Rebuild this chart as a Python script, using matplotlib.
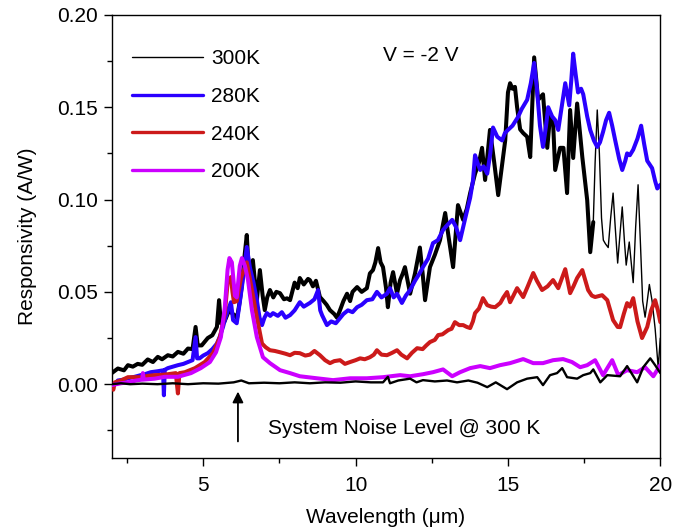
import numpy as np
import matplotlib.pyplot as plt

plt.rcParams['font.family'] = ['Liberation Sans', 'DejaVu Sans']
plt.rcParams['font.size'] = 15

# 300K, thick part of the spectrum
wl_300 = [2.0, 2.2, 2.4, 2.53, 2.69, 2.85, 3.0, 3.18, 3.35, 3.51, 3.65, 3.84, 4.0, 4.17,
          4.35, 4.5, 4.65, 4.75, 4.82, 4.95, 5.15, 5.3, 5.45, 5.52, 5.58, 5.7, 5.85, 5.94,
          6.05, 6.11, 6.2, 6.27, 6.36, 6.43, 6.48, 6.53, 6.63, 6.7, 6.76, 6.86, 6.95, 7.02,
          7.1, 7.19, 7.3, 7.4, 7.52, 7.65, 7.75, 7.85, 8.0, 8.1, 8.17, 8.3, 8.44, 8.5, 8.6,
          8.7, 8.83, 8.95, 9.05, 9.16, 9.3, 9.39, 9.49, 9.6, 9.72, 9.82, 9.9, 10.05, 10.2,
          10.37, 10.47, 10.57, 10.65, 10.74, 10.82, 10.9, 11.0, 11.06, 11.15, 11.23, 11.36,
          11.46, 11.55, 11.62, 11.79, 11.95, 12.11, 12.2, 12.28, 12.44, 12.6, 12.77, 12.94,
          13.05, 13.2, 13.36, 13.53, 13.65, 13.76, 13.92, 14.05, 14.15, 14.25, 14.41, 14.55,
          14.68, 14.8, 14.91, 15.0, 15.07, 15.15, 15.23, 15.3, 15.4, 15.5, 15.63, 15.73,
          15.86, 15.99, 16.15, 16.29, 16.38, 16.48, 16.55, 16.71, 16.82, 16.94, 17.04, 17.14,
          17.27, 17.44, 17.6, 17.7, 17.8]
r_300 = [0.006, 0.0085, 0.0075, 0.0103, 0.0095, 0.011, 0.0105, 0.0134, 0.012, 0.0148, 0.0135,
         0.0157, 0.015, 0.0175, 0.0165, 0.0193, 0.019, 0.031, 0.021, 0.021, 0.025, 0.0265,
         0.031, 0.0455, 0.033, 0.034, 0.04, 0.0385, 0.037, 0.0358, 0.045, 0.0537, 0.07,
         0.0808, 0.066, 0.058, 0.0672, 0.055, 0.0455, 0.0618, 0.048, 0.0401, 0.047, 0.051,
         0.047, 0.05, 0.0493, 0.046, 0.0465, 0.0455, 0.055, 0.052, 0.0575, 0.054, 0.057,
         0.0564, 0.053, 0.056, 0.0472, 0.045, 0.043, 0.0401, 0.038, 0.036, 0.0401, 0.045,
         0.049, 0.045, 0.05, 0.0526, 0.05, 0.052, 0.06, 0.0618, 0.066, 0.0737, 0.066, 0.0634,
         0.052, 0.0417, 0.055, 0.0607, 0.049, 0.0564, 0.06, 0.0634, 0.049, 0.06, 0.074, 0.06,
         0.0455, 0.0634, 0.07, 0.078, 0.0927, 0.08, 0.0634, 0.097, 0.089, 0.095, 0.1035,
         0.114, 0.12, 0.128, 0.1106, 0.1377, 0.12, 0.1024, 0.118, 0.132, 0.158, 0.163, 0.16,
         0.161, 0.15, 0.138, 0.136, 0.134, 0.123, 0.177, 0.154, 0.157, 0.128, 0.145, 0.142,
         0.116, 0.128, 0.128, 0.1035, 0.1485, 0.1225, 0.152, 0.123, 0.0997, 0.0715, 0.0878]

# 300K, thin tail beyond 17.8 um
wl_300_tail = [17.8, 17.86, 17.93, 18.0, 18.07, 18.13, 18.2, 18.29, 18.37, 18.45, 18.52, 18.6,
               18.68, 18.75, 18.82, 18.88, 18.98, 19.05, 19.11, 19.19, 19.27, 19.35, 19.42,
               19.5, 19.57, 19.64, 19.73, 19.83, 19.93, 20.0]
r_300_tail = [0.0878, 0.12, 0.1485, 0.125, 0.09, 0.078, 0.076, 0.074, 0.09, 0.1035, 0.085,
              0.0656, 0.082, 0.096, 0.078, 0.0645, 0.077, 0.065, 0.055, 0.085, 0.108, 0.075,
              0.045, 0.0363, 0.045, 0.054, 0.045, 0.03, 0.009, 0.025]

wl_280 = [2.0, 2.2, 2.4, 2.53, 2.75, 2.95, 3.1, 3.28, 3.5, 3.68, 3.71, 3.74, 3.84, 4.0, 4.17,
          4.35, 4.5, 4.65, 4.75, 4.8, 4.88, 5.0, 5.15, 5.3, 5.45, 5.55, 5.65, 5.73, 5.81, 5.91,
          5.98, 6.1, 6.18, 6.27, 6.36, 6.43, 6.53, 6.65, 6.76, 6.85, 6.93, 7.01, 7.09, 7.2,
          7.29, 7.45, 7.58, 7.7, 7.85, 8.0, 8.17, 8.3, 8.5, 8.65, 8.77, 8.84, 8.9, 9.06, 9.2,
          9.35, 9.49, 9.6, 9.75, 9.9, 10.05, 10.2, 10.37, 10.55, 10.7, 10.85, 11.03, 11.13,
          11.25, 11.36, 11.52, 11.65, 11.79, 11.95, 12.1, 12.21, 12.38, 12.54, 12.7, 12.87,
          13.0, 13.17, 13.3, 13.43, 13.6, 13.76, 13.85, 13.92, 14.0, 14.09, 14.2, 14.32,
          14.42, 14.51, 14.65, 14.81, 14.9, 15.0, 15.15, 15.33, 15.45, 15.63, 15.75, 15.86,
          15.95, 16.05, 16.15, 16.25, 16.32, 16.45, 16.55, 16.65, 16.78, 16.88, 17.01, 17.08,
          17.14, 17.22, 17.3, 17.4, 17.47, 17.6, 17.7, 17.82, 17.93, 18.02, 18.12, 18.22,
          18.32, 18.42, 18.52, 18.65, 18.75, 18.85, 18.91, 19.0, 19.11, 19.25, 19.37, 19.47,
          19.57, 19.73, 19.83, 19.9, 20.0]
r_280 = [-0.002, 0.002, 0.0025, 0.0032, 0.004, 0.0049, 0.0055, 0.0065, 0.007, 0.0075, -0.006,
         0.0078, 0.0087, 0.0095, 0.0103, 0.011, 0.012, 0.013, 0.0255, 0.014, 0.014, 0.0155,
         0.0168, 0.019, 0.022, 0.026, 0.031, 0.036, 0.04, 0.0444, 0.0347, 0.033, 0.042,
         0.0526, 0.065, 0.0743, 0.0634, 0.055, 0.0455, 0.036, 0.032, 0.036, 0.0385, 0.037,
         0.0385, 0.037, 0.039, 0.036, 0.0374, 0.04, 0.0444, 0.042, 0.044, 0.046, 0.051, 0.04,
         0.0374, 0.032, 0.034, 0.033, 0.0358, 0.038, 0.04, 0.039, 0.0417, 0.043, 0.0455,
         0.046, 0.05, 0.047, 0.049, 0.052, 0.047, 0.049, 0.044, 0.048, 0.051, 0.056, 0.06,
         0.0634, 0.068, 0.0764, 0.078, 0.0835, 0.086, 0.089, 0.085, 0.078, 0.09, 0.101, 0.11,
         0.124, 0.12, 0.116, 0.118, 0.114, 0.125, 0.139, 0.134, 0.132, 0.136, 0.1377, 0.14,
         0.1447, 0.149, 0.154, 0.163, 0.174, 0.16, 0.14, 0.1285, 0.14, 0.15, 0.145, 0.143,
         0.1377, 0.152, 0.163, 0.151, 0.165, 0.179, 0.168, 0.158, 0.16, 0.157, 0.145, 0.1377,
         0.132, 0.1285, 0.131, 0.1366, 0.143, 0.147, 0.14, 0.132, 0.122, 0.116, 0.121, 0.125,
         0.124, 0.127, 0.133, 0.14, 0.13, 0.121, 0.117, 0.11, 0.106, 0.108]

wl_240 = [2.0, 2.05, 2.1, 2.3, 2.53, 2.95, 3.2, 3.41, 3.6, 3.84, 4.1, 4.17, 4.22, 4.4, 4.73,
          5.05, 5.32, 5.55, 5.71, 5.81, 5.91, 5.96, 6.01, 6.1, 6.24, 6.37, 6.43, 6.52, 6.6,
          6.76, 6.93, 7.05, 7.19, 7.35, 7.52, 7.7, 7.85, 8.0, 8.17, 8.35, 8.5, 8.65, 8.83,
          9.0, 9.16, 9.3, 9.49, 9.65, 9.82, 10.0, 10.15, 10.3, 10.47, 10.6, 10.7, 10.85,
          11.03, 11.2, 11.36, 11.5, 11.69, 11.85, 12.02, 12.2, 12.32, 12.44, 12.6, 12.71,
          12.85, 13.04, 13.15, 13.26, 13.4, 13.53, 13.65, 13.76, 13.85, 13.92, 14.05, 14.18,
          14.32, 14.45, 14.58, 14.75, 14.85, 14.97, 15.07, 15.18, 15.3, 15.5, 15.65, 15.83,
          15.95, 16.12, 16.3, 16.48, 16.65, 16.88, 17.04, 17.15, 17.27, 17.44, 17.63, 17.75,
          17.86, 18.09, 18.26, 18.45, 18.6, 18.68, 18.8, 18.91, 19.0, 19.11, 19.25, 19.4,
          19.57, 19.7, 19.83, 19.92, 20.0]
r_240 = [-0.0005, -0.003, 0.001, 0.002, 0.0038, 0.0038, 0.0045, 0.0049, 0.005, 0.0054, 0.006,
         -0.005, 0.006, 0.0065, 0.0087, 0.012, 0.0168, 0.0255, 0.0385, 0.0564, 0.058, 0.05,
         0.0444, 0.045, 0.0575, 0.0634, 0.066, 0.058, 0.051, 0.0363, 0.022, 0.02, 0.0184,
         0.018, 0.0173, 0.0165, 0.0157, 0.017, 0.0168, 0.0155, 0.016, 0.018, 0.0157, 0.013,
         0.0114, 0.0125, 0.013, 0.011, 0.012, 0.013, 0.014, 0.0135, 0.0146, 0.016, 0.0184,
         0.016, 0.0157, 0.017, 0.0184, 0.016, 0.014, 0.017, 0.0195, 0.019, 0.021, 0.0228,
         0.024, 0.0266, 0.027, 0.0293, 0.03, 0.0336, 0.032, 0.032, 0.031, 0.0304, 0.034,
         0.0385, 0.041, 0.0466, 0.0428, 0.042, 0.0417, 0.044, 0.047, 0.0499, 0.0444, 0.048,
         0.052, 0.0472, 0.053, 0.0602, 0.056, 0.051, 0.053, 0.0564, 0.052, 0.0623, 0.0493,
         0.053, 0.0575, 0.0618, 0.051, 0.048, 0.0472, 0.0482, 0.0455, 0.0347, 0.031, 0.0309,
         0.038, 0.0439, 0.042, 0.0466, 0.034, 0.025, 0.031, 0.04, 0.0455, 0.04, 0.0336]

wl_200 = [2.0, 2.3, 2.53, 2.8, 3.0, 3.02, 3.05, 3.41, 3.74, 4.17, 4.6, 4.92, 5.22, 5.42, 5.58,
          5.71, 5.8, 5.86, 5.94, 6.04, 6.1, 6.2, 6.27, 6.37, 6.47, 6.6, 6.76, 6.96, 7.19,
          7.52, 7.85, 8.17, 8.73, 9.26, 9.82, 10.37, 10.9, 11.46, 11.79, 12.21, 12.54, 12.87,
          13.17, 13.43, 13.76, 14.09, 14.41, 14.74, 15.07, 15.5, 15.83, 16.15, 16.48, 16.81,
          17.1, 17.37, 17.6, 17.86, 18.12, 18.42, 18.62, 18.91, 19.24, 19.5, 19.77, 20.0]
r_200 = [-0.0005, 0.0005, 0.001, 0.002, 0.0025, 0.006, 0.0025, 0.003, 0.004, 0.004, 0.006,
         0.0087, 0.012, 0.0173, 0.0255, 0.0417, 0.062, 0.0683, 0.066, 0.048, 0.047, 0.064,
         0.0683, 0.064, 0.0564, 0.04, 0.0255, 0.0146, 0.0114, 0.0076, 0.006, 0.0043, 0.0032,
         0.0022, 0.0032, 0.0032, 0.0038, 0.0049, 0.0043, 0.0054, 0.0065, 0.008, 0.0043,
         0.0065, 0.0087, 0.0098, 0.0087, 0.0103, 0.0114, 0.0136, 0.0114, 0.0114, 0.013,
         0.0136, 0.012, 0.0092, 0.0103, 0.013, 0.0049, 0.013, 0.0049, 0.0076, 0.0065,
         0.0092, 0.0043, 0.0103]

# system noise level at 300 K
wl_noise = [2.0, 2.3, 2.6, 3.0, 3.5, 4.0, 4.5, 5.0, 5.5, 6.0, 6.25, 6.5, 7.0, 7.5, 8.0, 8.5,
            9.0, 9.5, 10.0, 10.5, 10.9, 11.06, 11.13, 11.4, 11.79, 12.0, 12.21, 12.6, 13.0,
            13.33, 13.7, 14.0, 14.32, 14.6, 14.97, 15.3, 15.63, 15.96, 16.15, 16.38, 16.61,
            16.78, 16.94, 17.27, 17.47, 17.7, 17.8, 18.03, 18.26, 18.68, 18.91, 19.24, 19.44,
            19.67, 19.83, 20.0]
r_noise = [0.0, 0.0005, 0.0, 0.0003, 0.0, 0.0005, 0.0, 0.0005, 0.0003, 0.001, 0.002, 0.0005,
           0.0008, 0.0005, 0.001, 0.0005, 0.001, 0.0008, 0.0015, 0.001, 0.001, 0.004, 0.0005,
           0.002, 0.003, 0.001, 0.0022, 0.0015, 0.002, 0.001, 0.002, 0.0008, -0.0016, 0.001,
           -0.0027, 0.001, 0.003, 0.0038, -0.0005, 0.0049, 0.006, 0.0087, 0.0038, 0.003,
           0.0049, 0.006, 0.008, 0.001, 0.0049, 0.0043, 0.0098, 0.001, 0.0092, 0.014, 0.0103,
           0.006]

fig = plt.figure(figsize=(6.9, 5.32), dpi=100)
ax = fig.add_axes([0.162, 0.139, 0.795, 0.833])

style = dict(solid_joinstyle='round', solid_capstyle='round')
ax.plot(wl_300, r_300, color='black', lw=2.9, zorder=2, **style)
ax.plot(wl_300_tail, r_300_tail, color='black', lw=1.0, zorder=2, label='300K', **style)
ax.plot(wl_280, r_280, color='#2a00ff', lw=2.9, zorder=3, label='280K', **style)
ax.plot(wl_240, r_240, color='#cc1a1a', lw=2.9, zorder=4, label='240K', **style)
ax.plot(wl_200, r_200, color='#cc00ff', lw=2.9, zorder=5, label='200K', **style)
ax.plot(wl_noise, r_noise, color='black', lw=1.7, zorder=6, **style)

ax.set_xlim(2, 20)
ax.set_ylim(-0.04, 0.20)
ax.set_xticks([5, 10, 15, 20])
ax.set_xticks([2.5, 7.5, 12.5, 17.5], minor=True)
ax.set_yticks([0.0, 0.05, 0.10, 0.15, 0.20])
ax.set_yticks([-0.025, 0.025, 0.075, 0.125, 0.175], minor=True)
ax.set_yticklabels(['0.00', '0.05', '0.10', '0.15', '0.20'])
ax.tick_params(which='major', direction='out', length=6, width=1, labelsize=15)
ax.tick_params(which='minor', direction='out', length=3.5, width=1)
ax.tick_params(axis='x', pad=7)
ax.tick_params(axis='y', pad=4)
for s in ax.spines.values():
    s.set_linewidth(1)

ax.set_xlabel('Wavelength (\u03bcm)', fontsize=15, labelpad=9)
ax.set_ylabel('Responsivity (A/W)', fontsize=15, labelpad=14)

ax.text(10.9, 0.178, 'V = -2 V', fontsize=15, va='center')
ax.annotate('', xy=(6.14, -0.004), xytext=(6.14, -0.031),
            arrowprops=dict(arrowstyle='-|>', color='black', lw=1.3,
                            mutation_scale=16, shrinkA=0, shrinkB=0))
ax.text(7.12, -0.0238, 'System Noise Level @ 300 K', fontsize=15, va='center')

leg = ax.legend(loc='upper left', bbox_to_anchor=(0.018, 0.946), frameon=False,
                fontsize=15, handlelength=3.4, handletextpad=0.4, labelspacing=0.9,
                borderpad=0)
for h in leg.get_lines()[1:]:
    h.set_linewidth(2.4)

fig.savefig('out.png', dpi=100)
